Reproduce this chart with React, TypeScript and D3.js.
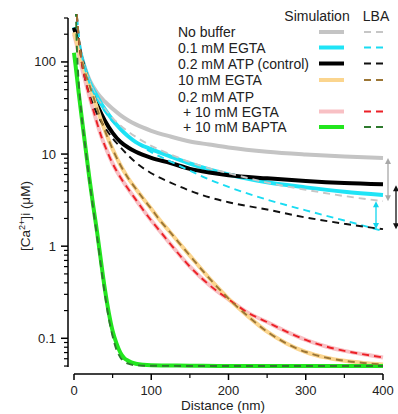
import React from 'react';
import * as d3 from 'd3';

type Pt = [number, number];

// ---- data: [distance (nm), [Ca2+]i (uM)] ----
const noBufferSim: Pt[] = [[0,235],[3,190],[6,150],[10,112],[15,82],[20,64],[30,46],[40,37],[50,31],[60,26.5],[70,23.3],[80,21],[100,17.9],[125,15.5],[150,13.7],[175,12.7],[200,11.8],[250,10.6],[300,9.9],[350,9.4],[400,9.05]];
const noBufferLBA: Pt[] = [[4,308],[5,246],[6,205],[8,154],[10,123],[15,82],[20,62],[30,41],[40,31],[50,24.6],[60,20.5],[70,17.6],[80,15.4],[100,12.3],[125,9.9],[150,8.2],[175,7.0],[200,6.2],[250,4.9],[300,4.1],[350,3.5],[400,3.08]];

const egta01Sim: Pt[] = [[0,238],[3,192],[6,150],[10,110],[15,80],[20,61],[30,42],[40,30.5],[50,23.5],[60,18.8],[70,15.6],[80,13.5],[100,11.3],[125,9.4],[150,7.9],[175,6.8],[200,6.0],[250,4.95],[300,4.35],[350,3.9],[400,3.6]];
const egta01LBA: Pt[] = [[4,300],[5,244],[7,174],[10,121],[15,80],[20,59],[30,39],[40,29],[50,22.5],[60,18.5],[80,13.5],[100,10.5],[125,8.3],[150,6.6],[175,5.3],[200,4.4],[250,3.2],[300,2.45],[350,1.9],[400,1.46]];

const atpSim: Pt[] = [[0,236],[3,190],[6,148],[10,106],[15,74],[20,54],[30,34],[40,23],[50,17],[60,13.6],[70,11.8],[80,10.6],[100,9.1],[125,8.0],[150,6.9],[175,6.3],[200,5.9],[250,5.45],[300,5.1],[350,4.85],[400,4.7]];
const atpLBA: Pt[] = [[2,600],[3,400],[4,290],[6,185],[10,100],[15,62],[20,44],[25,34],[30,27],[40,19.5],[50,14.8],[60,11.9],[70,9.7],[80,8.1],[100,6.2],[125,4.9],[150,4.0],[175,3.4],[200,3.0],[250,2.5],[300,2.05],[350,1.75],[400,1.53]];

const egta10Sim: Pt[] = [[0,210],[3,170],[6,135],[10,100],[15,74],[20,56],[25,42],[30,31],[40,18],[50,11.3],[60,7.6],[70,5.5],[80,4.2],[90,3.25],[100,2.55],[110,1.97],[125,1.4],[150,0.79],[175,0.45],[200,0.27],[225,0.174],[250,0.118],[275,0.088],[300,0.071],[325,0.062],[350,0.057],[375,0.054],[400,0.052]];
const egta10LBA: Pt[] = [[2,600],[4,300],[6,195],[8,140],[10,108],[15,74],[20,56],[25,42],[30,31],[40,18],[50,11.3],[60,7.6],[70,5.5],[80,4.2],[90,3.25],[100,2.55],[110,1.97],[125,1.4],[150,0.79],[175,0.45],[200,0.27],[225,0.174],[250,0.118],[275,0.088],[300,0.071],[325,0.062],[350,0.057],[375,0.054],[400,0.052]];

const atpEgtaSim: Pt[] = [[0,200],[3,160],[6,122],[10,88],[15,60],[20,42],[25,30],[30,21.5],[36,15],[40,12.3],[50,7.9],[60,5.6],[70,4.2],[80,3.2],[90,2.45],[100,1.9],[110,1.5],[125,1.05],[150,0.6],[175,0.38],[200,0.265],[225,0.19],[250,0.15],[275,0.118],[300,0.096],[325,0.082],[350,0.073],[375,0.067],[400,0.062]];
const atpEgtaLBA: Pt[] = [[2,600],[4,300],[6,190],[8,135],[10,100],[15,62],[20,42],[25,30],[30,21.5],[36,15],[40,12.3],[50,7.9],[60,5.6],[70,4.2],[80,3.2],[90,2.45],[100,1.9],[110,1.5],[125,1.05],[150,0.6],[175,0.38],[200,0.265],[225,0.19],[250,0.15],[275,0.118],[300,0.096],[325,0.082],[350,0.073],[375,0.067],[400,0.062]];

const atpBaptaSim: Pt[] = [[0,126],[2,92],[4,66],[6,47],[8,34],[10,25],[15,11.5],[20,5.4],[25,2.7],[30,1.4],[35,0.68],[40,0.34],[45,0.19],[50,0.12],[55,0.088],[60,0.07],[65,0.061],[70,0.057],[80,0.053],[90,0.0515],[100,0.051],[150,0.0505],[200,0.05],[300,0.05],[400,0.05]];
const atpBaptaLBA: Pt[] = [[2,500],[3,230],[3.5,160],[4,125],[6,62],[8,38],[10,25],[15,11.3],[20,5.1],[25,2.5],[30,1.25],[35,0.6],[40,0.3],[45,0.165],[50,0.105],[55,0.075],[60,0.062],[65,0.056],[70,0.053],[80,0.051],[100,0.0503],[200,0.05],[300,0.05],[400,0.05]];

const xTicks = [0, 100, 200, 300, 400];
const xMinorTicks = [50, 150, 250, 350];
const yTicks = [0.1, 1, 10, 100];
const yTickLabels = ['0.1', '1', '10', '100'];
const yMinorTicks = [0.05, 0.06, 0.07, 0.08, 0.09, 0.2, 0.3, 0.4, 0.5, 0.6, 0.7, 0.8, 0.9, 2, 3, 4, 5, 6, 7, 8, 9, 20, 30, 40, 50, 60, 70, 80, 90, 200, 300];

const legendLabels = ['No buffer', '0.1 mM EGTA', '0.2 mM ATP (control)', '10 mM EGTA', '0.2 mM ATP', '+ 10 mM EGTA', '+ 10 mM BAPTA'];
const simColors = ['#c4c4c4', '#1fe4f6', '#000000', '#fbd58e', null, '#f8c0c4', '#22e61e'];
const lbaColors = ['#c6c6c6', '#1adcf2', '#111111', '#9c7635', null, '#ec2027', '#2e7a2e'];

const simSeries = [noBufferSim, egta01Sim, atpSim, egta10Sim, atpEgtaSim, atpBaptaSim];
const lbaSeries = [noBufferLBA, egta01LBA, atpLBA, egta10LBA, atpEgtaLBA, atpBaptaLBA];
const seriesSimColors = ['#c4c4c4', '#1fe4f6', '#000000', '#fbd58e', '#f8c0c4', '#22e61e'];
const seriesLbaColors = ['#c6c6c6', '#1adcf2', '#111111', '#9c7635', '#ec2027', '#2e7a2e'];
const simDrawOrder = [0, 1, 2, 4, 3, 5];

const FONT = 'Liberation Sans, Arial, Helvetica, sans-serif';

export default function App() {
  const W = 398, H = 414;
  const x = d3.scaleLinear().domain([0, 400]).range([74, 383]);
  const y = d3.scaleLog().domain([0.0488, 300]).range([367, 18]);
  const line = d3.line<Pt>().x(d => x(d[0])).y(d => y(d[1])).curve(d3.curveMonotoneX);

  const last = (s: Pt[]) => s[s.length - 1][1];
  const arrows = [
    { xx: x(400) + 5, y1: y(last(noBufferSim)), y2: y(last(noBufferLBA)), color: '#a8a8a8' },
    { xx: x(400) - 7, y1: y(last(noBufferLBA)), y2: y(last(egta01LBA)) - 2, color: '#12d6ee' },
    { xx: x(400) + 13, y1: y(last(atpSim)) + 1, y2: y(last(atpLBA)), color: '#111111' },
  ];
  const head = (xx: number, tipY: number, dir: number) => {
    const h = 6, w = 3;
    return `M${xx},${tipY} L${xx - w},${tipY - dir * h} L${xx + w},${tipY - dir * h} Z`;
  };

  const rowY = [32, 47.5, 63.5, 80, 96.5, 111.5, 127];

  return (
    <svg width={W} height={H} style={{ position: 'absolute', left: 0, top: 0, background: '#fff' }} fontFamily={FONT}>
      <defs>
        <clipPath id="plotclip">
          <rect x={70} y={14} width={330} height={356} />
        </clipPath>
      </defs>

      {/* y axis */}
      <line x1={68} x2={68} y1={y(300)} y2={y(0.0488)} stroke="#000" strokeWidth={1.5} />
      {yTicks.map((t, i) => (
        <g key={'yt' + t}>
          <line x1={61} x2={68} y1={y(t)} y2={y(t)} stroke="#000" strokeWidth={1.5} />
          <text x={56} y={y(t) + 4.5} textAnchor="end" fontSize={13} fill="#222">{yTickLabels[i]}</text>
        </g>
      ))}
      {yMinorTicks.map(t => (
        <line key={'ym' + t} x1={64} x2={68} y1={y(t)} y2={y(t)} stroke="#000" strokeWidth={1.2} />
      ))}
      <text transform={`translate(30,216) rotate(-90)`} textAnchor="middle" fontSize={13.5} fill="#222">
        [Ca<tspan fontSize={9} dy={-5}>2+</tspan><tspan dy={5}>]i (μM)</tspan>
      </text>

      {/* x axis */}
      <line x1={x(0)} x2={x(400)} y1={374} y2={374} stroke="#000" strokeWidth={1.5} />
      {xTicks.map(t => (
        <g key={'xt' + t}>
          <line x1={x(t)} x2={x(t)} y1={374} y2={380} stroke="#000" strokeWidth={1.5} />
          <text x={x(t)} y={395} textAnchor="middle" fontSize={13} fill="#222">{t}</text>
        </g>
      ))}
      {xMinorTicks.map(t => (
        <line key={'xm' + t} x1={x(t)} x2={x(t)} y1={374} y2={378} stroke="#000" strokeWidth={1.2} />
      ))}
      <text x={223} y={410} textAnchor="middle" fontSize={13.5} fill="#222">Distance (nm)</text>

      {/* curves */}
      <g clipPath="url(#plotclip)" fill="none" strokeLinecap="butt" strokeLinejoin="round">
        {simDrawOrder.map(i => (
          <path key={'s' + i} d={line(simSeries[i]) || ''} stroke={seriesSimColors[i]} strokeWidth={4} />
        ))}
        {[0, 1, 2, 4, 3, 5].map(i => (
          <path key={'l' + i} d={line(lbaSeries[i]) || ''} stroke={seriesLbaColors[i]} strokeWidth={1.9} strokeDasharray="7,5" />
        ))}
      </g>

      {/* difference arrows */}
      {arrows.map((a, i) => (
        <g key={'a' + i}>
          <line x1={a.xx} x2={a.xx} y1={a.y1 + 3} y2={a.y2 - 3} stroke={a.color} strokeWidth={1.3} />
          <path d={head(a.xx, a.y1, -1)} fill={a.color} />
          <path d={head(a.xx, a.y2, 1)} fill={a.color} />
        </g>
      ))}

      {/* legend */}
      <text x={317} y={21} textAnchor="middle" fontSize={14} fill="#222">Simulation</text>
      <text x={376} y={21} textAnchor="middle" fontSize={14} fill="#222">LBA</text>
      {legendLabels.map((lab, i) => (
        <g key={'lg' + i}>
          <text x={i >= 5 ? 183 : 178} y={rowY[i] + 5} fontSize={14} fill="#222">{lab}</text>
          {simColors[i] && (
            <line x1={319} x2={344} y1={rowY[i]} y2={rowY[i]} stroke={simColors[i] as string} strokeWidth={4} />
          )}
          {lbaColors[i] && (
            <line x1={364} x2={383} y1={rowY[i]} y2={rowY[i]} stroke={lbaColors[i] as string} strokeWidth={1.9} strokeDasharray="7,5" />
          )}
        </g>
      ))}
    </svg>
  );
}
